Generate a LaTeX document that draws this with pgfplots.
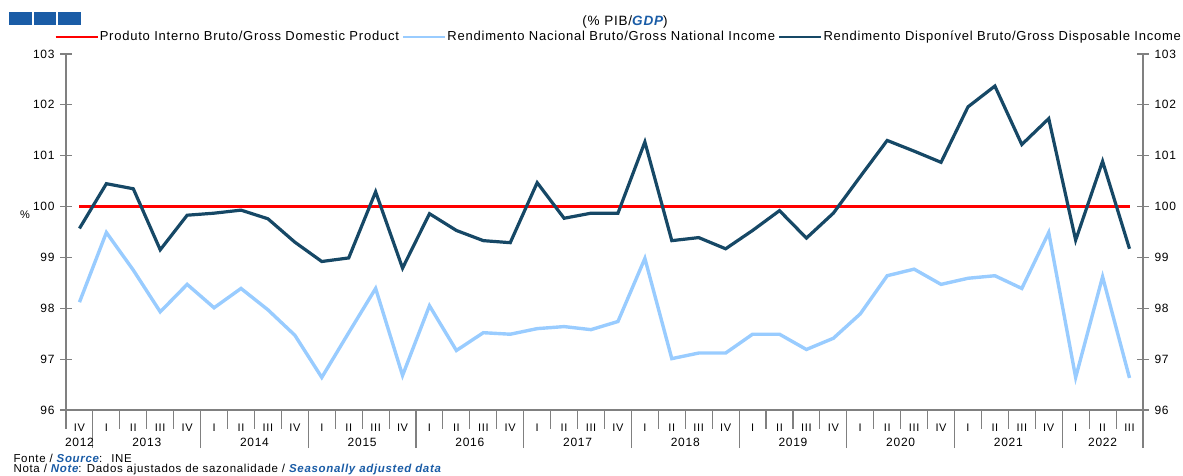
\documentclass[border=0pt]{standalone}
\usepackage{fontspec}
\setmainfont{Liberation Sans}
\newfontfamily\lsf[LetterSpace=6]{Liberation Sans}
\usepackage{pgfplots}
\usepackage{pgfplotstable}
\pgfplotsset{compat=1.18}
\definecolor{gdpred}{RGB}{255,0,0}
\definecolor{gnilight}{RGB}{153,204,255}
\definecolor{gdidark}{RGB}{22,72,102}
\definecolor{inebl}{RGB}{26,92,166}
\definecolor{axgray}{RGB}{128,128,128}

\pgfplotstableread{
x gdp gni gdi
0.5 100 98.12 99.57
1.5 100 99.49 100.45
2.5 100 98.75 100.35
3.5 100 97.93 99.15
4.5 100 98.47 99.83
5.5 100 98.01 99.87
6.5 100 98.39 99.93
7.5 100 97.97 99.76
8.5 100 97.47 99.30
9.5 100 96.64 98.92
10.5 100 97.52 98.99
11.5 100 98.39 100.29
12.5 100 96.68 98.79
13.5 100 98.05 99.86
14.5 100 97.17 99.53
15.5 100 97.52 99.33
16.5 100 97.49 99.29
17.5 100 97.60 100.47
18.5 100 97.64 99.77
19.5 100 97.58 99.87
20.5 100 97.74 99.87
21.5 100 98.98 101.27
22.5 100 97.01 99.33
23.5 100 97.12 99.39
24.5 100 97.12 99.17
25.5 100 97.49 99.53
26.5 100 97.49 99.92
27.5 100 97.19 99.38
28.5 100 97.41 99.87
29.5 100 97.89 100.59
30.5 100 98.64 101.30
31.5 100 98.77 101.09
32.5 100 98.47 100.87
33.5 100 98.59 101.96
34.5 100 98.64 102.37
35.5 100 98.39 101.22
36.5 100 99.49 101.73
37.5 100 96.64 99.34
38.5 100 98.62 100.89
39.5 100 96.63 99.17
}\data

\pgfplotsset{
  common/.style={
    at={(66pt,66pt)}, anchor=south west, scale only axis,
    width=1077pt, height=356pt, xmin=0, xmax=40, ymin=96, ymax=103,
    axis line style={-, draw=axgray, line width=1.3pt},
    every tick/.style={draw=axgray, line width=1.1pt},
    every minor tick/.style={draw=axgray, line width=1.1pt},
    ticklabel style={font=\fontsize{12}{12}\lsf},
    /pgf/number format/assume math mode=true,
  }
}

\begin{document}
\begin{tikzpicture}[x=1pt,y=1pt]
\path[use as bounding box] (0,0) rectangle (1183,476);
\fill[inebl] (9,451) rectangle (32,464);
\fill[inebl] (33.5,451) rectangle (56,464);
\fill[inebl] (58,451) rectangle (81,464);
\node[font=\fontsize{13.5}{13.5}\lsf] at (625,454) {(\% PIB/{\color{inebl}\bfseries\itshape GDP})};
\node[font=\fontsize{11}{11}\lsf] at (25,261) {\%};
\node[font=\fontsize{11.5}{11.5}\lsf, anchor=base west] at (10,13.5) {Fonte / {\color{inebl}\bfseries\itshape Source}:~ INE};
\node[font=\fontsize{11.5}{11.5}\lsf, anchor=base west] at (10,3) {Nota / {\color{inebl}\bfseries\itshape Note}: Dados ajustados de sazonalidade / {\color{inebl}\bfseries\itshape Seasonally adjusted data}};

% main axis: data and quarter labels
\begin{axis}[common,
  axis x line*=bottom, axis y line*=left,
  ytick=\empty,
  xtick={0.5,1.5,...,39.5},
  xticklabels={IV,I,II,III,IV,I,II,III,IV,I,II,III,IV,I,II,III,IV,I,II,III,IV,I,II,III,IV,I,II,III,IV,I,II,III,IV,I,II,III,IV,I,II,III},
  major x tick style={draw=none},
  minor xtick={0,...,39},
  minor tick length=19pt,
  tick align=outside,
  xticklabel style={font=\fontsize{11}{11}\lsf, yshift=-6pt},
  legend style={at={(axis description cs:-0.0111,1.048)}, anchor=west, draw=none, fill=none,
    font=\fontsize{13}{15}\lsf, legend columns=3, inner sep=0pt,
    nodes={inner xsep=1pt},
    /tikz/every even column/.append style={column sep=2pt}},
  legend cell align=left,
  legend image code/.code={\draw[#1,line width=2.5pt] (0pt,0pt) -- (42pt,0pt);},
]
\addplot[gdpred, line width=2.2pt] table[x=x,y=gdp] {\data};
\addlegendentry{Produto Interno Bruto/Gross Domestic Product}
\addplot[gnilight, line width=3.4pt] table[x=x,y=gni] {\data};
\addlegendentry{Rendimento Nacional Bruto/Gross National Income}
\addplot[gdidark, line width=3.2pt] table[x=x,y=gdi] {\data};
\addlegendentry{Rendimento Dispon\'ivel Bruto/Gross Disposable Income}
\end{axis}

% left y ticks
\begin{axis}[common,
  axis x line=none, axis y line*=left,
  ytick={96,...,103}, tick align=center, major tick length=12pt,
  yticklabel style={xshift=-2pt},
]
\end{axis}

% right y ticks
\begin{axis}[common,
  axis x line=none, axis y line*=right,
  ytick={96,...,103}, tick align=center, major tick length=12pt,
  yticklabel style={xshift=2pt},
]
\end{axis}

% year labels and year separators
\begin{axis}[common,
  axis x line*=bottom, axis y line=none,
  xtick={0.5,3,7,11,15,19,23,27,31,35,38.5},
  xticklabels={2012,2013,2014,2015,2016,2017,2018,2019,2020,2021,2022},
  major x tick style={draw=none},
  minor xtick={1,5,9,13,17,21,25,29,33,37,40},
  minor tick length=38pt,
  tick align=outside,
  xticklabel style={yshift=-20pt},
]
\end{axis}
\end{tikzpicture}
\end{document}
